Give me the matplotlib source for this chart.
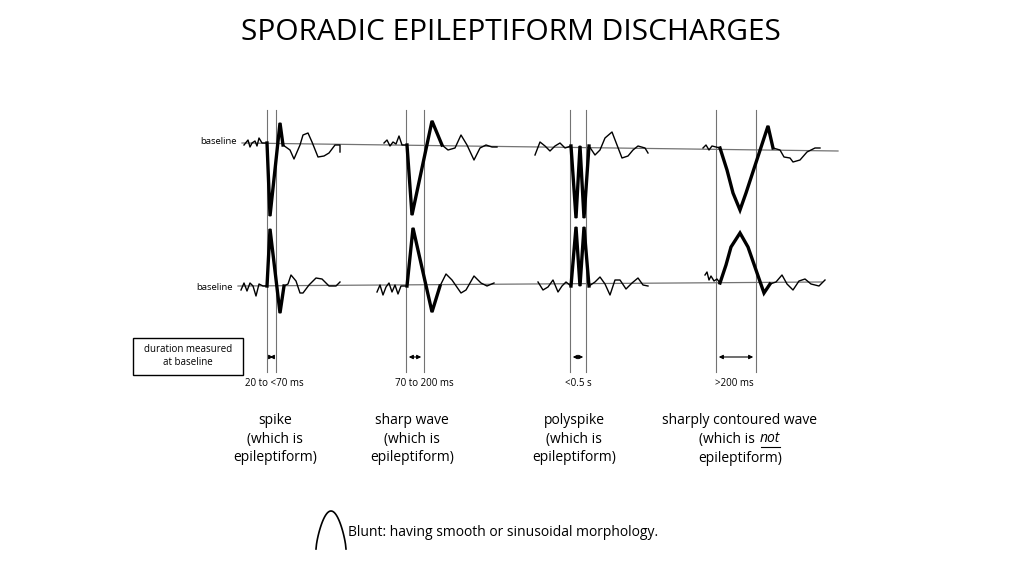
import matplotlib
matplotlib.use("Agg")
import matplotlib.pyplot as plt
import numpy as np

FONT = ["Open Sans", "DejaVu Sans"]
title = "SPORADIC EPILEPTIFORM DISCHARGES"
range_labels = ["20 to <70 ms", "70 to 200 ms", "<0.5 s", ">200 ms"]
desc_labels = ["spike\n(which is\nepileptiform)", "sharp wave\n(which is\nepileptiform)",
               "polyspike\n(which is\nepileptiform)"]
sc_label_top = "sharply contoured wave"
sc_label_mid = "(which is"
sc_label_not = "not"
sc_label_bot = "epileptiform)"

# waveform traces (pixel coordinates of the reference diagram)
spike_up_x = [244,248,250,252,255,257,259,262,267,270,280,283,290,294,300,303,308,312,318,324,329,335,340,340]
spike_up_y = [145,140,147,143,141,146,138,143,143,216,123,145,150,159,145,135,133,142,157,156,153,145,145,152]
spike_lo_x = [241,244,247,250,253,256,259,263,267,270,280,284,288,291,296,300,303,309,316,322,329,336,340]
spike_lo_y = [290,283,291,283,286,296,284,286,286,229,313,286,284,275,281,293,293,285,278,279,286,286,282]
sharp_up_x = [384,387,390,393,396,399,402,407,412,432,442,448,455,461,467,474,480,486,492,497]
sharp_up_y = [143,140,146,142,144,136,145,145,215,121,145,150,148,135,145,160,148,145,147,147]
sharp_lo_x = [377,380,383,386,389,392,395,398,401,407,413,432,440,446,452,461,466,474,481,487,494]
sharp_lo_y = [292,285,295,287,283,292,285,294,286,286,228,312,286,274,280,293,290,276,283,286,283]
poly_up_x = [535,540,545,550,555,560,565,571,576,580,584,589,595,600,605,612,617,622,628,633,638,645,648]
poly_up_y = [155,142,146,151,146,143,148,146,218,146,218,146,155,150,138,132,145,158,156,150,146,148,153]
poly_lo_x = [538,543,548,553,558,562,566,571,576,580,584,589,595,600,605,610,615,620,626,632,638,643,648]
poly_lo_y = [282,290,287,280,292,286,282,286,227,286,227,286,282,277,284,295,280,280,289,283,278,285,286]
sc_up_x = [703,706,709,712,716,720,727,733,740,746,768,773,780,784,790,793,800,807,815,820]
sc_up_y = [148,145,150,146,147,148,170,193,210,193,126,148,150,157,158,162,160,152,148,148]
sc_lo_x = [705,707,709,711,714,717,720,726,731,740,748,764,770,776,782,787,793,799,805,811,819,825]
sc_lo_y = [275,272,280,276,281,279,283,265,247,233,247,293,284,282,275,284,290,281,279,284,286,280]

fig = plt.figure(figsize=(10.24, 5.75), dpi=100)
ax = fig.add_axes([0, 0, 1, 1])
ax.set_xlim(0, 1024); ax.set_ylim(575, 0); ax.axis("off")

ax.text(511, 32, title, ha="center", va="center", fontsize=21.5, family=FONT)

# baselines
ax.plot([242, 838], [143, 151], color="0.45", lw=0.9)
ax.plot([238, 822], [286, 282], color="0.45", lw=0.9)
ax.text(237, 142, "baseline", ha="right", va="center", fontsize=6.8, family=FONT)
ax.text(233, 287, "baseline", ha="right", va="center", fontsize=6.8, family=FONT)

# vertical duration lines and arrows
vpairs = [(267, 276), (406, 424), (570, 586), (716, 756)]
for a, b in vpairs:
    for v in (a, b):
        ax.plot([v, v], [110, 372], color="0.45", lw=0.8)
    ax.annotate("", xy=(b, 357), xytext=(a, 357),
                arrowprops=dict(arrowstyle="<|-|>", color="black", lw=0.8, mutation_scale=6))

thin = [(spike_up_x, spike_up_y), (spike_lo_x, spike_lo_y), (sharp_up_x, sharp_up_y),
        (sharp_lo_x, sharp_lo_y), (poly_up_x, poly_up_y), (poly_lo_x, poly_lo_y),
        (sc_up_x, sc_up_y), (sc_lo_x, sc_lo_y)]
for xs, ys in thin:
    ax.plot(xs, ys, color="black", lw=1.0)
thick = [(spike_up_x[8:12], spike_up_y[8:12]), (spike_lo_x[8:12], spike_lo_y[8:12]),
         (sharp_up_x[7:11], sharp_up_y[7:11]), (sharp_lo_x[9:13], sharp_lo_y[9:13]),
         (poly_up_x[7:12], poly_up_y[7:12]), (poly_lo_x[7:12], poly_lo_y[7:12]),
         (sc_up_x[5:12], sc_up_y[5:12]), (sc_lo_x[6:13], sc_lo_y[6:13])]
for xs, ys in thick:
    ax.plot(xs, ys, color="black", lw=2.4, solid_joinstyle="miter")

# box
ax.add_patch(plt.Rectangle((133, 338), 110, 37, fill=False, lw=1, ec="black"))
ax.text(188, 356, "duration measured\nat baseline", ha="center", va="center", fontsize=7, family=FONT)

rx = [274, 424, 578, 734]
dx = [275, 412, 574]
for x, t in zip(rx, range_labels):
    ax.text(x, 383, t, ha="center", va="center", fontsize=7, family=FONT)
for x, t in zip(dx, desc_labels):
    ax.text(x, 439, t, ha="center", va="center", fontsize=10, family=FONT, linespacing=1.35)
ax.text(740, 420, sc_label_top, ha="center", va="center", fontsize=10, family=FONT)
ax.text(755, 439, sc_label_mid, ha="right", va="center", fontsize=10, family=FONT)
ax.text(760, 439, sc_label_not, ha="left", va="center", fontsize=10, family=FONT, style="italic")
ax.plot([761, 780], [447, 447], color="black", lw=0.8)
ax.text(740, 458, sc_label_bot, ha="center", va="center", fontsize=10, family=FONT)

# blunt symbol
t = np.linspace(-1, 1, 60)
ax.plot(331 + 15 * t, 549 - 38 * np.cos(t * np.pi / 2) ** 0.7, color="black", lw=1.2)
ax.text(348, 533, "Blunt: having smooth or sinusoidal morphology.", ha="left", va="center",
        fontsize=10, family=FONT)

fig.savefig("out.png", dpi=100)
